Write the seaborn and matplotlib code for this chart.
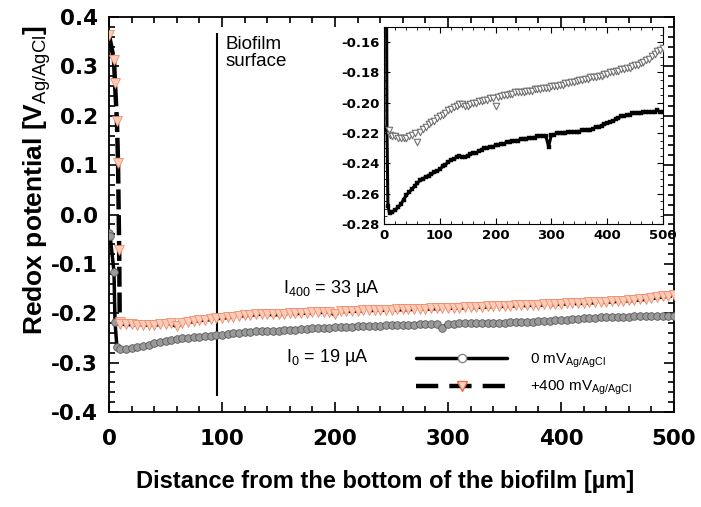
import matplotlib
matplotlib.use("Agg")
import matplotlib.pyplot as plt
from matplotlib.lines import Line2D
import numpy as np
import pandas as pd
import seaborn as sns

# depth grid of the microprofiles [um]
depth = list(range(10, 501, 5))

# 0 mV Ag/AgCl profile (V)
lead_x_0 = [0, 1, 4.4, 5.3, 7]
lead_v_0 = [-0.037, -0.043, -0.116, -0.218, -0.268]
v_0 = [-0.273, -0.272, -0.271, -0.269, -0.267, -0.264, -0.261, -0.259, -0.257, -0.255,
       -0.253, -0.251, -0.250, -0.249, -0.248, -0.247, -0.246, -0.245, -0.244, -0.242,
       -0.241, -0.239, -0.238, -0.237, -0.236, -0.235, -0.236, -0.236, -0.235, -0.234,
       -0.233, -0.233, -0.232, -0.231, -0.230, -0.230, -0.229, -0.229, -0.228, -0.228,
       -0.227, -0.227, -0.226, -0.226, -0.225, -0.225, -0.225, -0.224, -0.224, -0.224,
       -0.223, -0.223, -0.223, -0.222, -0.222, -0.222, -0.222, -0.229, -0.221, -0.221,
       -0.220, -0.220, -0.220, -0.220, -0.219, -0.219, -0.219, -0.219, -0.219, -0.218,
       -0.218, -0.218, -0.218, -0.217, -0.216, -0.216, -0.215, -0.214, -0.2135, -0.213,
       -0.212, -0.211, -0.210, -0.209, -0.209, -0.208, -0.208, -0.207, -0.207, -0.207,
       -0.207, -0.206, -0.206, -0.206, -0.206, -0.206, -0.205, -0.206, -0.206]

# +400 mV Ag/AgCl profile (V)
lead_x_400 = [0, 4.4, 5.3, 7, 8, 9, 9.5]
lead_v_400 = [0.363, 0.313, 0.266, 0.19, 0.104, -0.072, -0.218]
v_400 = [-0.221, -0.222, -0.222, -0.223, -0.223, -0.223, -0.223, -0.222, -0.221, -0.220,
         -0.226, -0.219, -0.217, -0.216, -0.214, -0.213, -0.212, -0.210, -0.209, -0.208,
         -0.207, -0.205, -0.204, -0.203, -0.202, -0.201, -0.201, -0.202, -0.202, -0.201,
         -0.200, -0.200, -0.199, -0.199, -0.198, -0.198, -0.197, -0.197, -0.202, -0.196,
         -0.1955, -0.195, -0.195, -0.194, -0.194, -0.193, -0.193, -0.193, -0.193, -0.192,
         -0.192, -0.192, -0.191, -0.191, -0.191, -0.190, -0.190, -0.190, -0.189, -0.189,
         -0.189, -0.188, -0.188, -0.187, -0.187, -0.186, -0.186, -0.1855, -0.185, -0.185,
         -0.184, -0.184, -0.183, -0.183, -0.183, -0.182, -0.182, -0.181, -0.181, -0.180,
         -0.180, -0.179, -0.179, -0.178, -0.178, -0.177, -0.177, -0.176, -0.175, -0.175,
         -0.174, -0.173, -0.172, -0.171, -0.169, -0.168, -0.166, -0.165, -0.164]

surface_depth = 96

df0 = pd.DataFrame({"x": lead_x_0 + depth, "v": lead_v_0 + v_0})
df400 = pd.DataFrame({"x": lead_x_400 + depth, "v": lead_v_400 + v_400})

sns.set_style("ticks")
plt.rcParams["font.family"] = ["Liberation Sans", "DejaVu Sans"]
plt.rcParams["mathtext.fontset"] = "custom"
plt.rcParams["mathtext.rm"] = "Liberation Sans"
plt.rcParams["mathtext.it"] = "Liberation Sans:italic"
plt.rcParams["mathtext.bf"] = "Liberation Sans:bold"
for k in ["text.color", "axes.labelcolor", "xtick.color", "ytick.color", "axes.edgecolor"]:
    plt.rcParams[k] = "black"

fig = plt.figure(figsize=(7.01, 5.07), dpi=100)
ax = fig.add_axes([0.1555, 0.1874, 0.806, 0.779])

# lines first, markers on top
sns.lineplot(data=df0, x="x", y="v", sort=False, color="black", lw=2.5, ax=ax, zorder=2)
sns.lineplot(data=df400, x="x", y="v", sort=False, color="black", lw=3.2, ax=ax, zorder=2)
ax.lines[-1].set_dashes([4.5, 1.3])
sns.scatterplot(data=df0, x="x", y="v", marker="o", s=30, color="#9a9a9a",
                edgecolor="#5a5a5a", linewidth=0.6, ax=ax, zorder=3)
sns.scatterplot(data=df400, x="x", y="v", marker="v", s=50, color="#fbcdb8",
                edgecolor="#f08a6c", linewidth=0.6, ax=ax, zorder=3)

ax.vlines(surface_depth, -0.368, 0.368, color="black", lw=1.5, zorder=1)
ax.text(103, 0.362, "Biofilm\nsurface", fontsize=13.5, va="top", ha="left", linespacing=1.05)
ax.text(154, -0.149, r"I$_{\rm 400}$ = 33 µA", fontsize=13, va="center")
ax.text(157, -0.289, r"I$_{\rm 0}$ = 19 µA", fontsize=13, va="center")

ax.set_xlim(0, 500)
ax.set_ylim(-0.4, 0.4)
ax.set_xticks([0, 100, 200, 300, 400, 500])
ax.set_xticks(np.arange(0, 501, 20), minor=True)
ax.set_yticks([-0.4, -0.3, -0.2, -0.1, 0.0, 0.1, 0.2, 0.3, 0.4])
ax.set_yticks(np.arange(-0.4, 0.401, 0.02), minor=True)
ax.set_yticklabels(["-0.4", "-0.3", "-0.2", "-0.1", "0.0", "0.1", "0.2", "0.3", "0.4"])
ax.tick_params(which="both", direction="in", top=True, right=True, width=1.2)
ax.tick_params(which="major", length=7, labelsize=15.5)
ax.tick_params(which="minor", length=4)
ax.tick_params(axis="x", pad=12)
ax.tick_params(axis="y", pad=8)
for lab in ax.get_xticklabels() + ax.get_yticklabels():
    lab.set_fontweight("bold")
    lab.set_fontfamily("DejaVu Sans")
for sp in ax.spines.values():
    sp.set_linewidth(1.3)

ax.set_xlabel("Distance from the bottom of the biofilm [µm]", fontsize=17, fontweight="bold")
ax.set_ylabel(r"Redox potential [V$_{\rm Ag/AgCl}$]", fontsize=19, fontweight="bold")
ax.yaxis.set_label_coords(-0.1, 0.587)
ax.xaxis.set_label_coords(0.488, -0.148)

handles = [
    Line2D([], [], color="black", lw=2.5, marker="o", ms=6, mfc="white", mec="#888888"),
    Line2D([], [], color="black", lw=3.2, ls=(0, (5, 2.5)), marker="v", ms=7,
           mfc="#fbd3c0", mec="#ee6a48"),
]
ax.legend(handles, [r"0 mV$_{\rm Ag/AgCl}$", r"+400 mV$_{\rm Ag/AgCl}$"],
          loc="center left", bbox_to_anchor=(0.543, 0.095), frameon=False,
          fontsize=11, handlelength=6, handletextpad=1.5, borderpad=0,
          borderaxespad=0, labelspacing=0.6)

# inset zoom of the profiles
ins = fig.add_axes([0.5478, 0.5582, 0.398, 0.3885])
ins.set_facecolor("white")
sns.lineplot(data=df0, x="x", y="v", sort=False, color="black", lw=2.2, ax=ins)
sns.scatterplot(data=df0, x="x", y="v", marker="s", s=12, color="black",
                edgecolor="black", ax=ins, zorder=3)
sns.scatterplot(data=df400, x="x", y="v", marker="v", s=22, color="white",
                edgecolor="#707070", linewidth=0.8, ax=ins, zorder=3)
ins.set_xlim(0, 500)
ins.set_ylim(-0.28, -0.15)
ins.set_xticks([0, 100, 200, 300, 400, 500])
ins.set_xticks(np.arange(0, 501, 20), minor=True)
ins.set_yticks([-0.28, -0.26, -0.24, -0.22, -0.20, -0.18, -0.16])
ins.set_yticks(np.arange(-0.28, -0.149, 0.005), minor=True)
ins.set_yticklabels(["-0.28", "-0.26", "-0.24", "-0.22", "-0.20", "-0.18", "-0.16"])
ins.tick_params(which="both", direction="in", top=True, right=True)
ins.tick_params(which="major", length=4, labelsize=9.5)
ins.tick_params(which="minor", length=2)
for lab in ins.get_xticklabels() + ins.get_yticklabels():
    lab.set_fontweight("bold")
    lab.set_fontfamily("DejaVu Sans")
ins.set_xlabel("")
ins.set_ylabel("")

fig.savefig("out.png", dpi=100)
